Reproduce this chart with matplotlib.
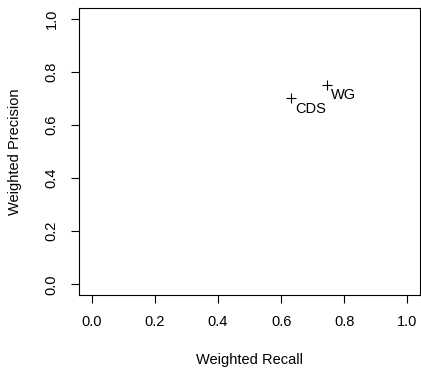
import matplotlib
matplotlib.use("Agg")
import matplotlib.pyplot as plt

# values
methods = ["CDS", "WG"]
recall = [0.633, 0.745]
precision = [0.70, 0.752]
ticks = [0.0, 0.2, 0.4, 0.6, 0.8, 1.0]
tick_labels = ["0.0", "0.2", "0.4", "0.6", "0.8", "1.0"]

plt.rcParams["font.family"] = ["Liberation Sans", "DejaVu Sans"]
plt.rcParams["font.size"] = 10.5

fig = plt.figure(figsize=(4.21, 3.69), dpi=100)
ax = fig.add_axes([79 / 421, 1 - 295 / 369, 341 / 421, 287 / 369])

ax.plot(recall, precision, linestyle="none", marker="+", markersize=7,
		markeredgewidth=0.8, color="black")
for name, x, y in zip(methods, recall, precision):
	ax.annotate(name, (x, y), xytext=(3, -2.5), textcoords="offset points",
				ha="left", va="top", fontsize=10.5)

ax.set_xlim(-0.04, 1.04)
ax.set_ylim(-0.04, 1.04)
ax.set_xticks(ticks)
ax.set_xticklabels(tick_labels)
ax.set_yticks(ticks)
ax.set_yticklabels(tick_labels, rotation=90, va="center")
ax.tick_params(direction="out", length=5.5, width=0.8, pad=9)
for s in ax.spines.values():
	s.set_linewidth(0.8)

ax.set_xlabel("Weighted Recall")
ax.set_ylabel("Weighted Precision")
ax.xaxis.set_label_coords(0.5, (295 - 360) / 287)
ax.xaxis.label.set_va("center")
ax.yaxis.set_label_coords((15 - 79) / 341, 0.5)
ax.yaxis.label.set_va("center")

fig.savefig("out.png", dpi=100)
